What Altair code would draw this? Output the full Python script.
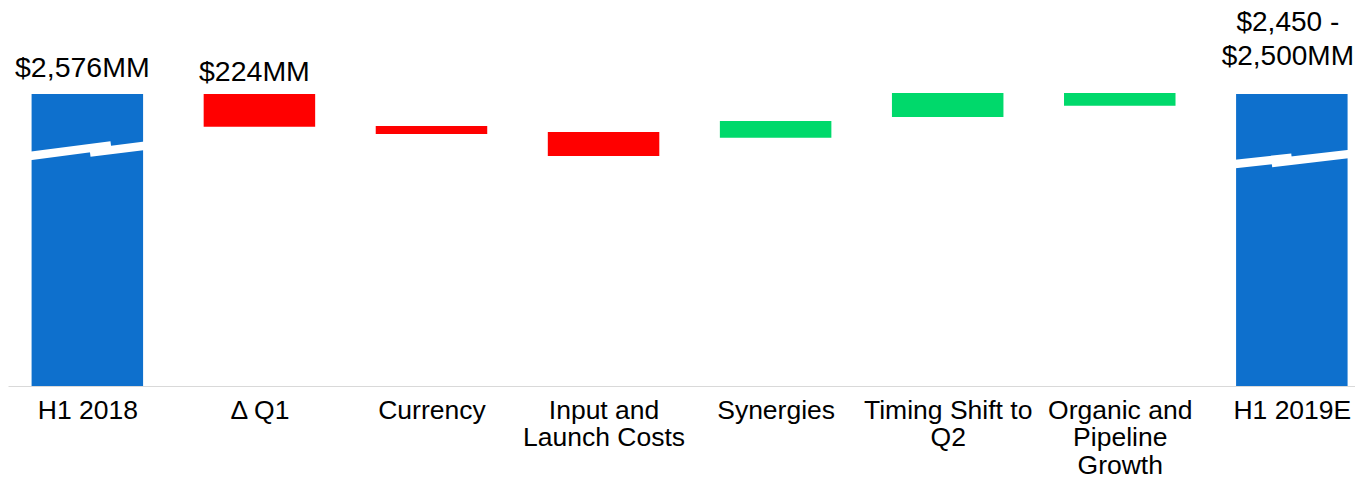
import json
import altair as alt
import pandas as pd

# ---------------- data ----------------
categories = ["H1 2018", "Δ Q1", "Currency", "Input and Launch Costs",
              "Synergies", "Timing Shift to Q2", "Organic and Pipeline Growth", "H1 2019E"]
axis_label_lines = [["H1 2018"], ["Δ Q1"], ["Currency"], ["Input and", "Launch Costs"],
                    ["Synergies"], ["Timing Shift to", "Q2"],
                    ["Organic and", "Pipeline", "Growth"], ["H1 2019E"]]
bar_kind = ["total", "decrease", "decrease", "decrease",
            "increase", "increase", "increase", "total"]
# $MM, above a broken axis whose visible floor is AXIS_FLOOR
AXIS_FLOOR = 576
AXIS_CEIL = 3165
bar_from = [AXIS_FLOOR, 2576, 2357, 2316, 2391, 2583, 2583, AXIS_FLOOR]
bar_to = [2576, 2352, 2302, 2151, 2277, 2418, 2496, 2576]

label_texts = ["$2,576MM", "$224MM", "$2,450 -\n$2,500MM"]
label_bar = [0, 1, 7]

# axis-break glyphs (white zigzag strips) on the two total bars
break_segment = ["L1", "L1", "L2", "L2", "R1", "R1", "R2", "R2"]
break_x = [-0.3798, 0.1374, 0.0154, 0.3815, 6.6173, 6.9992, 6.8831, 7.3380]
break_y = [2144.5, 2223.9, 2174.6, 2228.7, 2090.3, 2139.0, 2104.0, 2165.7]

# ---------------- tables ----------------
bars = pd.DataFrame({
    "idx": list(range(len(categories))),
    "category": categories,
    "kind": bar_kind,
    "from": bar_from,
    "to": bar_to,
})
labels = pd.DataFrame({
    "idx": label_bar,
    "text": label_texts,
    "top": [max(bar_from[i], bar_to[i]) for i in label_bar],
})
breaks = pd.DataFrame({"seg": break_segment, "x": break_x, "y": break_y})

FONT = "Arial, Liberation Sans, sans-serif"
xscale = alt.Scale(domain=[-0.4611, 7.3671], nice=False, zero=False, padding=0)
yscale = alt.Scale(domain=[AXIS_FLOOR, AXIS_CEIL], nice=False, zero=False, padding=0)

label_expr = json.dumps(axis_label_lines, ensure_ascii=False) + "[datum.value]"

x_axis = alt.Axis(
    values=list(range(len(categories))), labelExpr=label_expr, title=None,
    ticks=False, tickSize=0, grid=False, labelFlush=False, labelOverlap=False,
    labelBound=False, labelFont=FONT, labelFontSize=26.5, labelColor="#000000",
    labelLineHeight=27.5, labelPadding=11, labelAlign="center", labelBaseline="top",
    labelLimit=400, domainColor="#D9D9D9", domainWidth=1.2,
)

base = alt.Chart(bars)
bar_layer = base.mark_bar(width=111.5).encode(
    x=alt.X("idx:Q", scale=xscale, axis=x_axis),
    y=alt.Y("from:Q", scale=yscale, axis=None),
    y2="to:Q",
    color=alt.Color("kind:N", legend=None,
                    scale=alt.Scale(domain=["total", "decrease", "increase"],
                                    range=["#0E70CD", "#FF0000", "#00D96B"])),
)

break_layer = alt.Chart(breaks).mark_line(
    color="#FFFFFF", strokeWidth=8.5, strokeCap="butt"
).encode(
    x=alt.X("x:Q", scale=xscale),
    y=alt.Y("y:Q", scale=yscale),
    detail="seg:N",
)

text_layers = []
label_dy = {0: -17, 1: -13}
for i, t in enumerate(label_texts):
    sub = labels.iloc[[i]]
    if "\n" in t:
        mk = alt.Chart(sub).mark_text(
            font=FONT, fontSize=28, color="#000000", align="center",
            baseline="top", lineBreak="\n", lineHeight=34, dy=-85, dx=-4)
    else:
        mk = alt.Chart(sub).mark_text(
            font=FONT, fontSize=28.5, color="#000000", align="center",
            baseline="alphabetic", dy=label_dy[i], dx=-5)
    text_layers.append(mk.encode(
        x=alt.X("idx:Q", scale=xscale),
        y=alt.Y("top:Q", scale=yscale),
        text="text:N",
    ))

chart = alt.layer(bar_layer, break_layer, *text_layers).properties(
    width=1347, height=378,
    padding={"left": 0, "top": 0, "right": 0, "bottom": 89},
    autosize=alt.AutoSizeParams(type="none"),
).configure_view(stroke=None)

chart.save("out.html", embed_options={"renderer": "svg", "actions": False})
